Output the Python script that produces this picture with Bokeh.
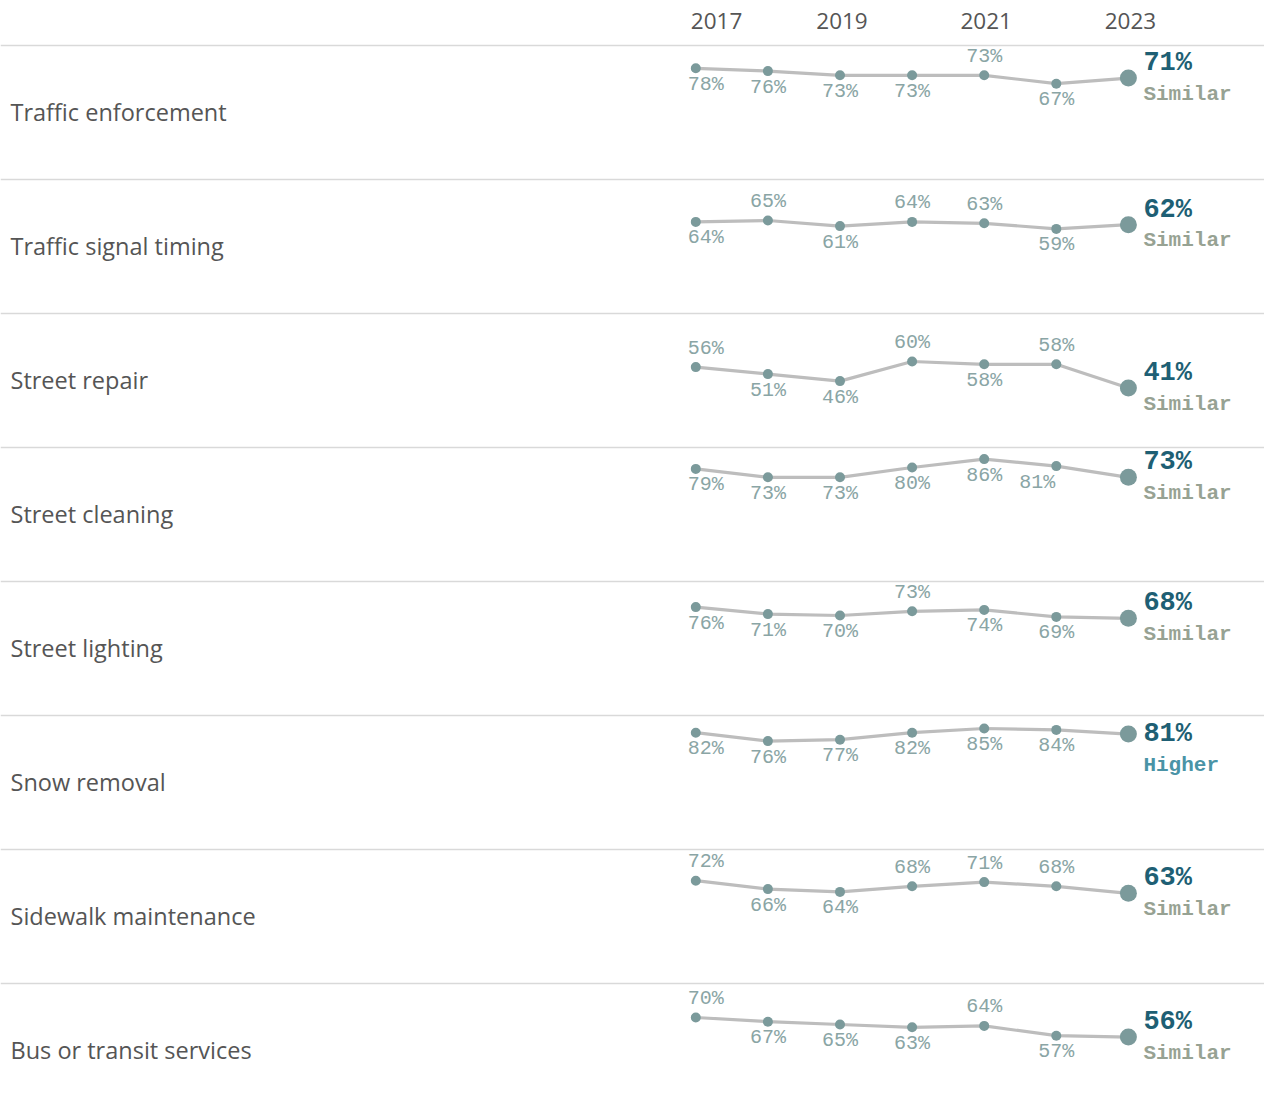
from bokeh.plotting import figure
from bokeh.models import ColumnDataSource, Range1d
from bokeh.core.properties import value
from bokeh.embed import file_html
from bokeh.resources import INLINE

# ---------------- data ----------------
years = [2017, 2018, 2019, 2020, 2021, 2022, 2023]
header_years = [2017, 2019, 2021, 2023]
services = [
    "Traffic enforcement",
    "Traffic signal timing",
    "Street repair",
    "Street cleaning",
    "Street lighting",
    "Snow removal",
    "Sidewalk maintenance",
    "Bus or transit services",
]
traffic_enforcement = [78, 76, 73, 73, 73, 67, 71]
traffic_signal_timing = [64, 65, 61, 64, 63, 59, 62]
street_repair = [56, 51, 46, 60, 58, 58, 41]
street_cleaning = [79, 73, 73, 80, 86, 81, 73]
street_lighting = [76, 71, 70, 73, 74, 69, 68]
snow_removal = [82, 76, 77, 82, 85, 84, 81]
sidewalk_maintenance = [72, 66, 64, 68, 71, 68, 63]
bus_transit = [70, 67, 65, 63, 64, 57, 56]
series = [traffic_enforcement, traffic_signal_timing, street_repair, street_cleaning,
          street_lighting, snow_removal, sidewalk_maintenance, bus_transit]
comparison = ["Similar", "Similar", "Similar", "Similar", "Similar", "Higher", "Similar", "Similar"]

# label placement (1 = above the point, 0 = below), first six years
label_above = [
    [0, 0, 0, 0, 1, 0],
    [0, 1, 0, 1, 1, 0],
    [1, 0, 0, 1, 0, 1],
    [0, 0, 0, 0, 0, 0],
    [0, 0, 0, 1, 0, 0],
    [0, 0, 0, 0, 0, 0],
    [1, 0, 0, 1, 1, 1],
    [1, 0, 0, 0, 1, 0],
]
# extra horizontal nudges (px) of individual labels: (row, year index) -> px
label_nudge = {(r, 0): 10 for r in range(8)}
label_nudge[(3, 5)] = -19
# vertical offset (px) of the big final value relative to its point
value_dy = [-15, -15, -15, -15, -15, 0, -15, -15]

# ---------------- geometry ----------------
W, H = 1264, 1100
PAGE = 0
PX_PER_YEAR = 72.1
X_2017_PAGE = 695.3
x0 = 2017 - (X_2017_PAGE - PAGE) / PX_PER_YEAR
x1 = x0 + W / PX_PER_YEAR
PX_PER_PT = 1.4
ROW_PX = 134
STEP = ROW_PX / PX_PER_PT          # data units per row
Y0_PAGE = 177                       # page y of value 0 in row 0
y1 = (Y0_PAGE - PAGE) / PX_PER_PT
y0 = y1 - H / PX_PER_PT

def dx(px):
    return px / PX_PER_YEAR

def dy(px):  # positive px = downward on screen
    return -px / PX_PER_PT

p = figure(width=W, height=H, output_backend="svg", toolbar_location=None,
           x_range=Range1d(x0, x1), y_range=Range1d(y0, y1), min_border=0)
p.axis.visible = False
p.grid.visible = False
p.outline_line_color = None
p.background_fill_color = "white"
p.border_fill_color = "white"

GRAY_TXT = "#555555"
SEP = "#d9d9d9"
LINE = "#bdbdbd"
PT = "#7b9a9b"
LBL = "#8aa5a5"
VAL = "#1e5f74"
STATUS_COL = {"Similar": "#97a293", "Higher": "#4a93a6"}

# separators (top of each row)
sep_y = [(Y0_PAGE - 45) / PX_PER_PT - i * STEP for i in range(len(services))]
for sy in sep_y:
    p.segment(x0=[x0], y0=[sy], x1=[x1], y1=[sy], line_color=SEP, line_width=1.5)

# header years
hdr = ColumnDataSource(dict(
    x=[yv + (dx(-5) if yv == 2017 else 2 / PX_PER_YEAR) for yv in header_years],
    y=[y1 + dy(20 - PAGE)] * len(header_years),
    t=[str(yv) for yv in header_years],
    a=["left" if yv == 2017 else "center" for yv in header_years],
))
p.text(x="x", y="y", text="t", source=hdr, text_align="a", text_baseline="middle",
       text_font=value("Open Sans"), text_font_size="22.5px", text_color=GRAY_TXT)

# row labels
rl = ColumnDataSource(dict(
    x=[x0 + dx(10 - PAGE)] * len(services),
    y=[sep_y[i] + dy(66) for i in range(len(services))],
    t=services,
))
p.text(x="x", y="y", text="t", source=rl, text_align="left", text_baseline="middle",
       text_font=value("Open Sans"), text_font_size="23.5px", text_color=GRAY_TXT)

lx, ly, lt = [], [], []
vx, vy, vt = [], [], []
sx, sy_, st, sc = [], [], [], []
for i, vals in enumerate(series):
    ys = [v - i * STEP for v in vals]
    p.line(x=years, y=ys, line_color=LINE, line_width=3.2)
    p.scatter(x=years[:-1], y=ys[:-1], size=10, fill_color=PT, line_color=None)
    p.scatter(x=[years[-1]], y=[ys[-1]], size=17, fill_color=PT, line_color=None)
    for j in range(len(years) - 1):
        off = -19 if label_above[i][j] else 16
        lx.append(years[j] + dx(label_nudge.get((i, j), 0)))
        ly.append(ys[j] + dy(off))
        lt.append(f"{vals[j]}%")
    vx.append(years[-1] + dx(15))
    vy.append(ys[-1] + dy(value_dy[i]))
    vt.append(f"{vals[-1]}%")
    sx.append(years[-1] + dx(15))
    sy_.append(ys[-1] + dy(value_dy[i] + 31))
    st.append(comparison[i])
    sc.append(STATUS_COL[comparison[i]])

p.text(x=lx, y=ly, text=lt, text_align="center", text_baseline="middle",
       text_font=value("Liberation Mono"), text_font_size="20px", text_color=LBL)
p.text(x=vx, y=vy, text=vt, text_align="left", text_baseline="middle",
       text_font=value("Liberation Mono"), text_font_size="27px", text_font_style="bold",
       text_color=VAL)
ss = ColumnDataSource(dict(x=sx, y=sy_, t=st, c=sc))
p.text(x="x", y="y", text="t", source=ss, text_align="left", text_baseline="middle",
       text_font=value("Liberation Mono"), text_font_size="21px", text_font_style="bold",
       text_color="c")

open("out.html", "w").write(file_html(p, INLINE))
